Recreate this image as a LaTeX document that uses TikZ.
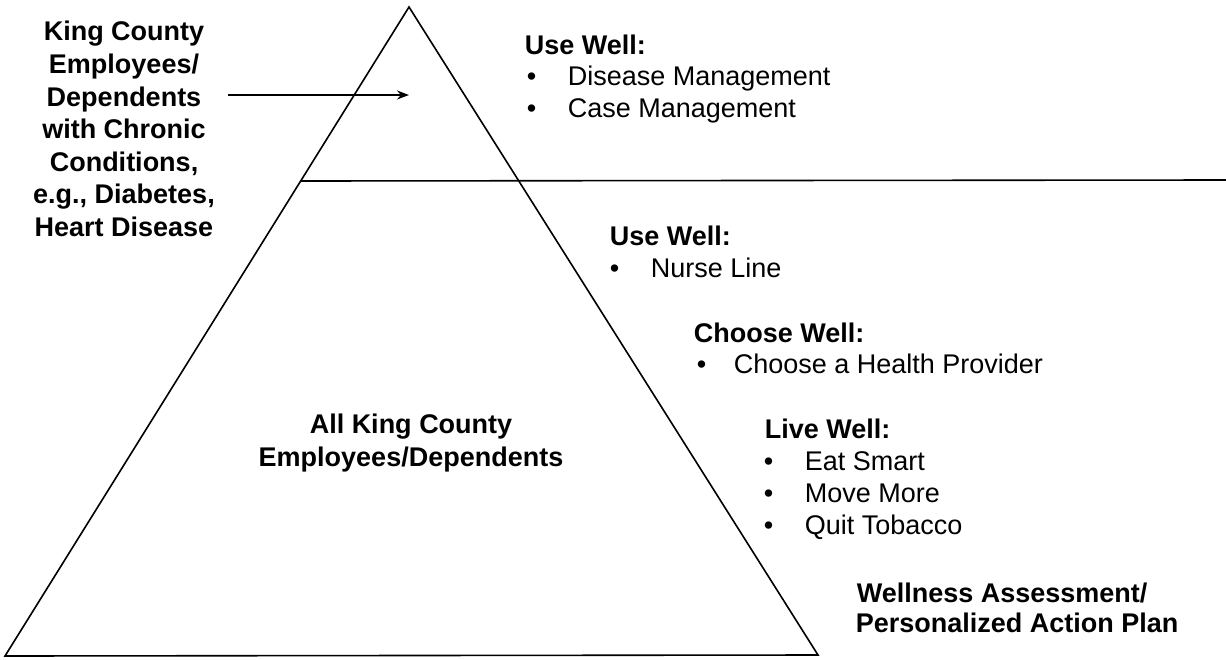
\documentclass[tikz,border=0pt]{standalone}
\usepackage{fontspec}
\setmainfont{Liberation Sans}
\usetikzlibrary{arrows.meta}

\begin{document}
\begin{tikzpicture}[x=0.5pt, y=-0.5pt, line width=0.8pt,
    txt/.style={anchor=base west, inner sep=0pt, font=\fontsize{13.5}{16.5}\selectfont},
    head/.style={txt, font=\fontsize{13.5}{16.5}\selectfont\bfseries},
    group/.style={align=center, inner sep=0pt, font=\fontsize{13.5}{16.3}\selectfont\bfseries}]
    \useasboundingbox (0,0) rectangle (1226,659);

    % Pyramid
    \coordinate (apex) at (409,7);
    \coordinate (baseL) at (5,656);
    \coordinate (baseR) at (818,655);
    \draw (apex) -- (baseL) -- (baseR) -- cycle;

    % Line splitting off the top tier
    \coordinate (splitL) at (301,181);
    \coordinate (splitR) at (1226,180);
    \draw (splitL) -- (splitR);

    % Chronic conditions group and its arrow
    \node[group] (chronic) at (124,129)
        {King County\\Employees/\\Dependents\\with Chronic\\Conditions,\\e.g., Diabetes,\\Heart Disease};
    \coordinate (arrowtail) at (228,95);
    \coordinate (arrowtip) at (409,95);
    \draw[-{Stealth[length=6pt,width=4.5pt]}] (arrowtail) -- (arrowtip);

    % Everyone
    \node[group, font=\fontsize{13.5}{16.5}\selectfont\bfseries] (all) at (411,443)
        {All King County\\Employees/Dependents};

    % Top tier: use well
    \node[head] (use1) at (524,54) {Use Well:};
    \node[txt] (b11) at (526,85) {\textbullet};
    \node[txt] (disease) at (567,85) {Disease Management};
    \node[txt] (b12) at (526,117) {\textbullet};
    \node[txt] (case) at (567,117) {Case Management};

    % Use well: nurse line
    \node[head] (use2) at (609,245) {Use Well:};
    \node[txt] (b21) at (609,277) {\textbullet};
    \node[txt] (nurse) at (650,277) {Nurse Line};

    % Choose well
    \node[head] (choose) at (693,342) {Choose Well:};
    \node[txt] (b31) at (696,373) {\textbullet};
    \node[txt] (provider) at (733,373) {Choose a Health Provider};

    % Live well
    \node[head] (live) at (764,438) {Live Well:};
    \node[txt] (b41) at (763,470) {\textbullet};
    \node[txt] (eat) at (804,470) {Eat Smart};
    \node[txt] (b42) at (763,502) {\textbullet};
    \node[txt] (move) at (804,502) {Move More};
    \node[txt] (b43) at (763,534) {\textbullet};
    \node[txt] (quit) at (804,534) {Quit Tobacco};

    % Assessment
    \node[head] (assess) at (856,602) {Wellness Assessment/};
    \node[head] (plan) at (855,632) {Personalized Action Plan};
\end{tikzpicture}
\end{document}
